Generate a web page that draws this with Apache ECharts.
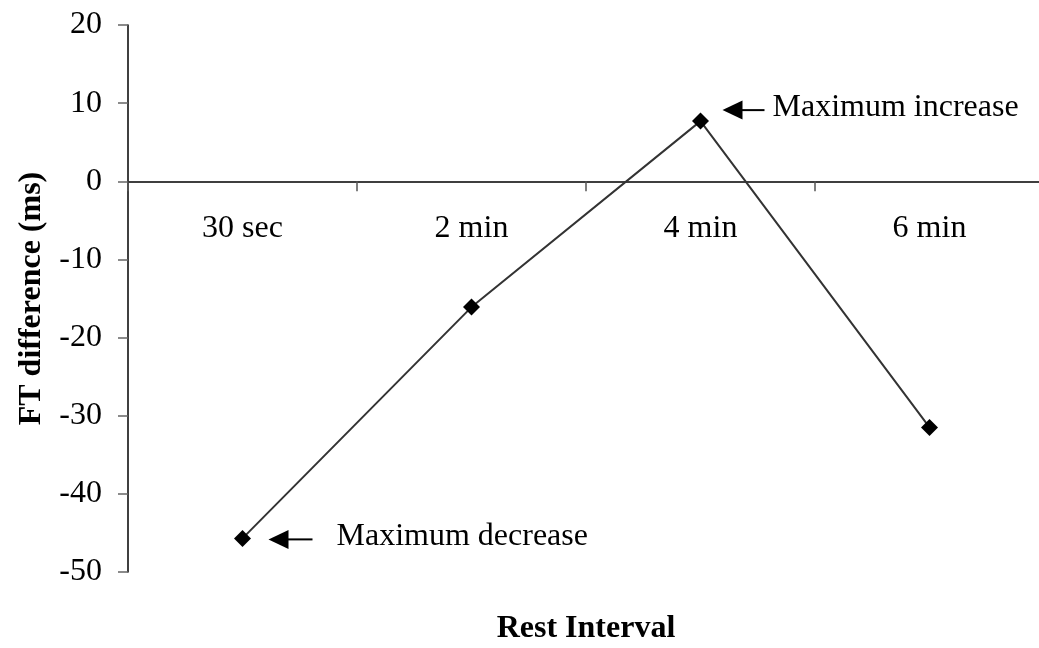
<!DOCTYPE html>
<html>
<head>
<meta charset="utf-8">
<script src="https://cdn.jsdelivr.net/npm/echarts@6/dist/echarts.min.js"></script>
<style>
html,body{margin:0;padding:0;background:#fff;}
#chart{width:1039px;height:648px;}
</style>
</head>
<body>
<div id="chart"></div>
<script>
var categories = ['30 sec', '2 min', '4 min', '6 min'];
var values = [-45.7, -16.1, 7.7, -31.5];
var yTicks = [-50, -40, -30, -20, -10, 0, 10, 20];
var annotations = [
  { index: 0, text: 'Maximum decrease' },
  { index: 2, text: 'Maximum increase' }
];

var FONT = '"Liberation Serif", "Times New Roman", serif';
var FS = 32;
var chart = echarts.init(document.getElementById('chart'), null, { renderer: 'canvas' });

var GRID = { left: 128, right: -5, top: 25, bottom: 76 };

function buildOption(xOffset) {
  return {
    backgroundColor: '#ffffff',
    animation: false,
    grid: { left: GRID.left, right: GRID.right, top: GRID.top, bottom: GRID.bottom, containLabel: false, outerBoundsMode: 'none' },
    xAxis: {
      type: 'category',
      data: categories,
      boundaryGap: true,
      position: 'bottom',
      offset: xOffset,
      name: 'Rest Interval',
      nameLocation: 'middle',
      nameGap: 431,
      nameMoveOverlap: false,
      nameTextStyle: { fontFamily: FONT, fontSize: FS, fontWeight: 'bold', color: '#000' },
      axisLine: { onZero: false, lineStyle: { color: '#000', width: 1.5 } },
      axisTick: { show: true, inside: false, length: 10, lineStyle: { color: '#555', width: 1.5 } },
      axisLabel: { fontFamily: FONT, fontSize: FS, color: '#000', margin: 31 },
      splitLine: { show: false }
    },
    yAxis: {
      type: 'value',
      min: yTicks[0],
      max: yTicks[yTicks.length - 1],
      interval: 10,
      name: 'FT difference (ms)',
      nameLocation: 'middle',
      nameGap: 80,
      nameRotate: 90,
      nameMoveOverlap: false,
      nameTextStyle: { fontFamily: FONT, fontSize: FS, fontWeight: 'bold', color: '#000' },
      axisLine: { show: true, lineStyle: { color: '#000', width: 1.5 } },
      axisTick: { show: true, length: 10, lineStyle: { color: '#666', width: 1.5 } },
      axisLabel: { fontFamily: FONT, fontSize: FS, color: '#000', margin: 26 },
      splitLine: { show: false }
    },
    series: [{
      type: 'line',
      data: values,
      symbol: 'diamond',
      symbolSize: 17,
      itemStyle: { color: '#000' },
      lineStyle: { color: '#333', width: 2 },
      z: 5
    }]
  };
}

chart.setOption(buildOption(0));
// move the category axis (line, ticks, labels) up to the y = 0 line using the library's scale
var zeroY = chart.convertToPixel({ yAxisIndex: 0 }, 0);
var bottomY = chart.convertToPixel({ yAxisIndex: 0 }, yTicks[0]);
chart.setOption(buildOption(-(bottomY - zeroY)));

function placeAnnotations() {
  var graphics = [];
  annotations.forEach(function (a) {
    var p = chart.convertToPixel({ seriesIndex: 0 }, [a.index, values[a.index]]);
    var dx, dy, lineEnd, textOff;
    if (a.index === 0) { dx = 26; dy = 1; lineEnd = 44; textOff = 68; }
    else { dx = 22; dy = -11; lineEnd = 42; textOff = 50; }
    var tipX = p[0] + dx, tipY = p[1] + dy;
    var headLen = 20, headH = 9.5;
    graphics.push({
      type: 'polygon',
      shape: { points: [[tipX, tipY], [tipX + headLen, tipY - headH], [tipX + headLen, tipY + headH]] },
      style: { fill: '#000' }
    });
    graphics.push({
      type: 'line',
      shape: { x1: tipX + headLen - 1, y1: tipY, x2: tipX + lineEnd, y2: tipY },
      style: { stroke: '#000', lineWidth: 2 }
    });
    graphics.push({
      type: 'text',
      x: tipX + textOff,
      y: tipY - 3,
      style: { text: a.text, font: FS + 'px ' + FONT, fill: '#000', verticalAlign: 'middle', align: 'left' }
    });
  });
  chart.setOption({ graphic: graphics });
}
placeAnnotations();
</script>
</body>
</html>
